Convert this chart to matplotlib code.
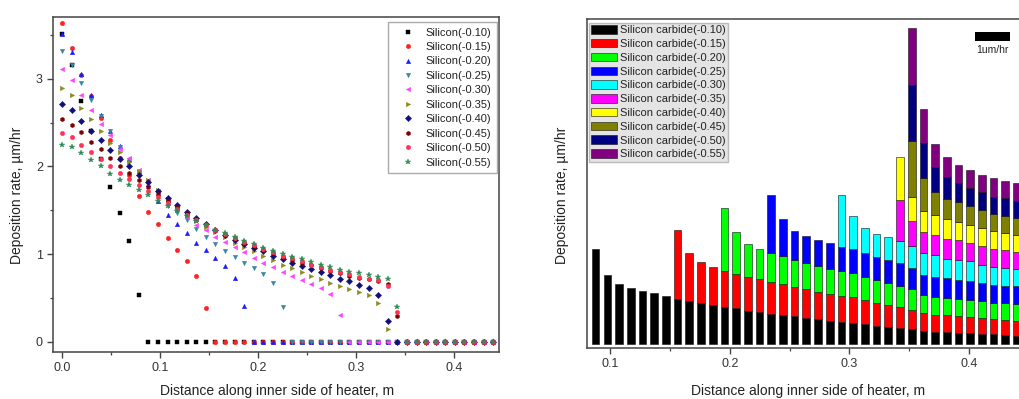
import numpy as np
import matplotlib
matplotlib.use('Agg')
import matplotlib.pyplot as plt
from matplotlib.patches import Rectangle
from matplotlib.ticker import MultipleLocator

plt.rcParams['font.family'] = ['Liberation Sans', 'DejaVu Sans']

# distance along inner side of heater, m
distance = [0.0000, 0.0098, 0.0196, 0.0293, 0.0391, 0.0489, 0.0587, 0.0684, 0.0782, 0.0880,
            0.0978, 0.1076, 0.1173, 0.1271, 0.1369, 0.1467, 0.1564, 0.1662, 0.1760, 0.1858,
            0.1956, 0.2053, 0.2151, 0.2249, 0.2347, 0.2444, 0.2542, 0.2640, 0.2738, 0.2836,
            0.2933, 0.3031, 0.3129, 0.3227, 0.3324, 0.3422, 0.3520, 0.3618, 0.3716, 0.3813,
            0.3911, 0.4009, 0.4107, 0.4204, 0.4302, 0.4400]

# silicon deposition rate, um/hr
si_010 = [3.51, 3.16, 2.75, 2.41, 2.09, 1.76, 1.47, 1.15, 0.53,
          0, 0, 0, 0, 0, 0, 0, 0, 0, 0, 0, 0, 0, 0, 0, 0, 0, 0, 0, 0, 0, 0, 0, 0, 0, 0, 0, 0, 0, 0, 0, 0, 0, 0, 0, 0, 0]
si_015 = [3.64, 3.35, 3.04, 2.80, 2.55, 2.30, 2.10, 1.90, 1.66, 1.48, 1.34, 1.18, 1.05, 0.92, 0.75, 0.38,
          0, 0, 0, 0, 0, 0, 0, 0, 0, 0, 0, 0, 0, 0, 0, 0, 0, 0, 0, 0, 0, 0, 0, 0, 0, 0, 0, 0, 0, 0]
si_020 = [3.51, 3.31, 3.05, 2.82, 2.59, 2.40, 2.23, 2.08, 1.95, 1.80, 1.60, 1.45, 1.34, 1.24, 1.13, 1.05,
          0.95, 0.86, 0.73, 0.41,
          0, 0, 0, 0, 0, 0, 0, 0, 0, 0, 0, 0, 0, 0, 0, 0, 0, 0, 0, 0, 0, 0, 0, 0, 0, 0]
si_025 = [3.32, 3.16, 2.95, 2.76, 2.58, 2.40, 2.22, 2.07, 1.94, 1.80, 1.65, 1.55, 1.47, 1.39, 1.29, 1.20,
          1.12, 1.04, 0.97, 0.90, 0.84, 0.77, 0.67, 0.39,
          0, 0, 0, 0, 0, 0, 0, 0, 0, 0, 0, 0, 0, 0, 0, 0, 0, 0, 0, 0, 0, 0]
si_030 = [3.11, 2.99, 2.81, 2.65, 2.49, 2.36, 2.20, 2.10, 1.96, 1.84, 1.72, 1.62, 1.52, 1.42, 1.33, 1.27,
          1.20, 1.14, 1.08, 1.02, 0.96, 0.90, 0.85, 0.80, 0.75, 0.70, 0.66, 0.61, 0.54, 0.30,
          0, 0, 0, 0, 0, 0, 0, 0, 0, 0, 0, 0, 0, 0, 0, 0]
si_035 = [2.90, 2.81, 2.67, 2.54, 2.41, 2.27, 2.16, 2.05, 1.95, 1.84, 1.73, 1.63, 1.54, 1.46, 1.38, 1.31,
          1.25, 1.19, 1.13, 1.08, 1.03, 0.98, 0.93, 0.88, 0.84, 0.79, 0.75, 0.71, 0.67, 0.63, 0.60, 0.57,
          0.53, 0.44, 0.14,
          0, 0, 0, 0, 0, 0, 0, 0, 0, 0, 0]
si_040 = [2.71, 2.65, 2.52, 2.41, 2.30, 2.19, 2.08, 2.00, 1.90, 1.82, 1.72, 1.64, 1.56, 1.48, 1.41, 1.34,
          1.28, 1.22, 1.16, 1.11, 1.07, 1.03, 0.98, 0.94, 0.90, 0.86, 0.83, 0.79, 0.76, 0.72, 0.69, 0.65,
          0.61, 0.53, 0.24,
          0, 0, 0, 0, 0, 0, 0, 0, 0, 0, 0]
si_045 = [2.54, 2.47, 2.39, 2.28, 2.20, 2.10, 2.01, 1.93, 1.85, 1.77, 1.69, 1.61, 1.54, 1.47, 1.40, 1.34,
          1.28, 1.23, 1.18, 1.13, 1.09, 1.05, 1.01, 0.97, 0.93, 0.90, 0.87, 0.84, 0.81, 0.78, 0.75, 0.73,
          0.71, 0.69, 0.66, 0.29,
          0, 0, 0, 0, 0, 0, 0, 0, 0, 0]
si_050 = [2.38, 2.34, 2.25, 2.17, 2.09, 2.00, 1.93, 1.86, 1.79, 1.72, 1.65, 1.58, 1.51, 1.45, 1.39, 1.33,
          1.28, 1.23, 1.18, 1.14, 1.10, 1.06, 1.02, 0.98, 0.95, 0.92, 0.88, 0.85, 0.82, 0.79, 0.77, 0.74,
          0.72, 0.70, 0.63, 0.34,
          0, 0, 0, 0, 0, 0, 0, 0, 0, 0]
si_055 = [2.25, 2.22, 2.15, 2.07, 2.00, 1.91, 1.84, 1.79, 1.73, 1.67, 1.60, 1.55, 1.49, 1.44, 1.38, 1.33,
          1.28, 1.24, 1.19, 1.15, 1.11, 1.07, 1.04, 1.00, 0.97, 0.94, 0.91, 0.88, 0.85, 0.82, 0.80, 0.78,
          0.76, 0.74, 0.71, 0.40,
          0, 0, 0, 0, 0, 0, 0, 0, 0, 0]

# silicon carbide deposition rate (bars start at the 10th position)
sic_010 = [0.95, 0.69, 0.60, 0.56, 0.53, 0.51, 0.48, 0.45, 0.43, 0.41, 0.39, 0.37, 0.36, 0.33, 0.32, 0.30,
           0.29, 0.28, 0.26, 0.25, 0.23, 0.22, 0.21, 0.20, 0.18, 0.17, 0.16, 0.15, 0.13, 0.12, 0.12, 0.11,
           0.11, 0.10, 0.10, 0.09, 0.08]
sic_015 = [0, 0, 0, 0, 0, 0, 0,
           0.69, 0.48, 0.41, 0.38, 0.36, 0.34, 0.34, 0.33, 0.32, 0.31, 0.29, 0.29, 0.27, 0.27, 0.26, 0.26,
           0.24, 0.23, 0.22, 0.21, 0.19, 0.18, 0.17, 0.17, 0.17, 0.16, 0.16, 0.15, 0.15, 0.15]
sic_020 = [0, 0, 0, 0, 0, 0, 0, 0, 0, 0, 0,
           0.63, 0.42, 0.33, 0.30, 0.29, 0.28, 0.27, 0.26, 0.26, 0.25, 0.25, 0.24, 0.23, 0.23, 0.22, 0.21,
           0.21, 0.18, 0.18, 0.17, 0.17, 0.17, 0.17, 0.16, 0.17, 0.17]
sic_025 = [0, 0, 0, 0, 0, 0, 0, 0, 0, 0, 0, 0, 0, 0, 0,
           0.58, 0.37, 0.29, 0.27, 0.26, 0.26, 0.24, 0.24, 0.24, 0.23, 0.23, 0.23, 0.21, 0.20, 0.20, 0.20,
           0.19, 0.19, 0.18, 0.18, 0.17, 0.18]
sic_030 = [0, 0, 0, 0, 0, 0, 0, 0, 0, 0, 0, 0, 0, 0, 0, 0, 0, 0, 0, 0, 0,
           0.52, 0.33, 0.25, 0.23, 0.23, 0.22, 0.22, 0.22, 0.22, 0.19, 0.20, 0.20, 0.18, 0.18, 0.18, 0.17]
sic_035 = [0, 0, 0, 0, 0, 0, 0, 0, 0, 0, 0, 0, 0, 0, 0, 0, 0, 0, 0, 0, 0, 0, 0, 0, 0, 0,
           0.41, 0.25, 0.21, 0.20, 0.20, 0.20, 0.18, 0.19, 0.18, 0.18, 0.17]
sic_040 = [0, 0, 0, 0, 0, 0, 0, 0, 0, 0, 0, 0, 0, 0, 0, 0, 0, 0, 0, 0, 0, 0, 0, 0, 0, 0,
           0.43, 0.24, 0.21, 0.20, 0.20, 0.18, 0.18, 0.18, 0.18, 0.17, 0.17]
sic_045 = [0, 0, 0, 0, 0, 0, 0, 0, 0, 0, 0, 0, 0, 0, 0, 0, 0, 0, 0, 0, 0, 0, 0, 0, 0, 0, 0,
           0.56, 0.33, 0.23, 0.20, 0.20, 0.19, 0.18, 0.17, 0.17, 0.17]
sic_050 = [0, 0, 0, 0, 0, 0, 0, 0, 0, 0, 0, 0, 0, 0, 0, 0, 0, 0, 0, 0, 0, 0, 0, 0, 0, 0, 0,
           0.56, 0.35, 0.25, 0.22, 0.19, 0.18, 0.18, 0.17, 0.18, 0.17]
sic_055 = [0, 0, 0, 0, 0, 0, 0, 0, 0, 0, 0, 0, 0, 0, 0, 0, 0, 0, 0, 0, 0, 0, 0, 0, 0, 0, 0,
           0.57, 0.34, 0.23, 0.20, 0.18, 0.18, 0.17, 0.19, 0.17, 0.18]

positions = ['-0.10', '-0.15', '-0.20', '-0.25', '-0.30', '-0.35', '-0.40', '-0.45', '-0.50', '-0.55']
si_series = [si_010, si_015, si_020, si_025, si_030, si_035, si_040, si_045, si_050, si_055]
sic_series = [sic_010, sic_015, sic_020, sic_025, sic_030, sic_035, sic_040, sic_045, sic_050, sic_055]

si_colors = ['#000000', '#ff2222', '#1a1aff', '#3a87a0', '#ff44ff', '#8c8c1a', '#10107a', '#800000', '#ff3355', '#2e8b57']
si_markers = ['s', 'o', '^', 'v', '<', '>', 'D', 'h', 'o', '*']
sic_colors = ['#000000', '#ff0000', '#00ff00', '#0000ff', '#00ffff', '#ff00ff', '#ffff00', '#808000', '#000080', '#800080']

W, H = 1020, 399
fig = plt.figure(figsize=(W / 100, H / 100), dpi=100)


def px_box(l, t, r, b):
    return [l / W, 1 - b / H, (r - l) / W, (b - t) / H]


spine_col = '#444444'
text_col = '#222222'

# ---- left: silicon scatter
ax1 = fig.add_axes(px_box(53, 17, 499, 352))
x = np.array(distance)
for vals, pos, col, mk in zip(si_series, positions, si_colors, si_markers):
    ms = 4.4 if mk == '*' else 3.2
    ax1.plot(x, vals, ls='none', marker=mk, ms=ms, color=col, mec=col, mew=0.3,
             label='Silicon(%s)' % pos)
ax1.set_xlim(-0.0095, 0.446)
ax1.set_ylim(-0.118, 3.706)
ax1.xaxis.set_major_locator(MultipleLocator(0.1))
ax1.xaxis.set_minor_locator(MultipleLocator(0.05))
ax1.yaxis.set_major_locator(MultipleLocator(1))
ax1.yaxis.set_minor_locator(MultipleLocator(0.5))
leg1 = ax1.legend(loc='upper right', bbox_to_anchor=(0.996, 0.985), borderaxespad=0,
                  fontsize=8, labelspacing=0.4, handlelength=2.6, handletextpad=0.3,
                  borderpad=0.5, fancybox=False, framealpha=1, edgecolor='#aaaaaa')
for t in leg1.get_texts():
    t.set_color(text_col)

# ---- right: silicon carbide stacked bars
ax2 = fig.add_axes(px_box(587, 19, 1029, 348))
xb = np.array(distance[9:])
bottom = np.zeros(len(xb))
for vals, pos, col in zip(sic_series, positions, sic_colors):
    v = np.array(vals)
    m = v > 0
    ax2.bar(xb[m], v[m], width=0.0064, bottom=bottom[m], color=col, edgecolor='#111111',
            linewidth=0.4, label='Silicon carbide(%s)' % pos)
    bottom = bottom + v
ax2.set_xlim(0.0808, 0.45)
ax2.set_ylim(-0.04, 3.25)
ax2.xaxis.set_major_locator(MultipleLocator(0.1))
ax2.xaxis.set_minor_locator(MultipleLocator(0.05))
ax2.set_yticks([])
leg2 = ax2.legend(loc='upper left', bbox_to_anchor=(0.004, 0.988), borderaxespad=0,
                  fontsize=8, labelspacing=0.33, handlelength=2.3, handleheight=0.8,
                  handletextpad=0.3, borderpad=0.2, fancybox=False, framealpha=1,
                  facecolor='#e4e4e4', edgecolor='#bbbbbb')
for t in leg2.get_texts():
    t.set_color(text_col)

for ax in (ax1, ax2):
    for s in ax.spines.values():
        s.set_color(spine_col)
        s.set_linewidth(1.1)
    ax.tick_params(which='major', direction='out', length=4.3, width=1, color=spine_col,
                   labelsize=9, labelcolor='#333333', pad=3)
    ax.tick_params(which='minor', direction='out', length=2.5, width=0.9, color=spine_col)

# axis titles
fig.text(17.5 / W, 1 - 195 / H, 'Deposition rate, µm/hr', rotation=90, ha='center', va='center',
         fontsize=10, color=text_col)
fig.text(562 / W, 1 - 195 / H, 'Deposition rate, µm/hr', rotation=90, ha='center', va='center',
         fontsize=10, color=text_col)
fig.text(277 / W, 1 - 395 / H, 'Distance along inner side of heater, m', ha='center', va='baseline',
         fontsize=10, color=text_col)
fig.text(808 / W, 1 - 395 / H, 'Distance along inner side of heater, m', ha='center', va='baseline',
         fontsize=10, color=text_col)

# scale bar on the bar chart
fig.add_artist(Rectangle((975 / W, 1 - 41 / H), 35 / W, 9 / H, transform=fig.transFigure,
                         facecolor='black', edgecolor='none'))
fig.text(992 / W, 1 - 50 / H, '1um/hr', ha='center', va='center', fontsize=7.5, color=text_col)

fig.savefig('out.png', dpi=100)
